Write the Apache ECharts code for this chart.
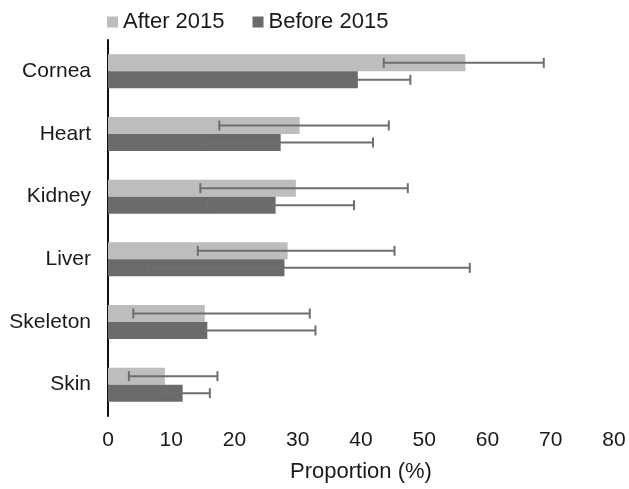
<!DOCTYPE html>
<html><head><meta charset="utf-8">
<script src="https://cdn.jsdelivr.net/npm/echarts@6/dist/echarts.min.js"></script>
<style>html,body{margin:0;padding:0;background:#fff}#c{width:629px;height:489px}</style>
</head><body><div id="c"></div>
<script>
var categories = ['Cornea', 'Heart', 'Kidney', 'Liver', 'Skeleton', 'Skin'];
var afterMean = [56.5, 30.3, 29.7, 28.4, 15.3, 9.0];
var afterLow  = [43.6, 17.6, 14.6, 14.2, 4.0, 3.3];
var afterHigh = [68.9, 44.4, 47.4, 45.3, 31.9, 17.3];
var beforeMean = [39.5, 27.3, 26.5, 27.9, 15.7, 11.8];
var beforeLow  = [31.2, 15.0, 15.7, 6.4, 3.9, 7.5];
var beforeHigh = [47.8, 41.9, 38.9, 57.2, 32.8, 16.1];
var xTicks = [0, 10, 20, 30, 40, 50, 60, 70, 80];

var FONT = 'Liberation Sans';
var BAR_W = 17;

function errData(lo, hi) {
  return categories.map(function (c, i) { return [lo[i], hi[i], i]; });
}
function errSeries(name, lo, hi, offset) {
  return {
    type: 'custom',
    name: name,
    data: errData(lo, hi),
    encode: { x: [0, 1], y: 2 },
    z: 10,
    silent: true,
    renderItem: function (params, api) {
      var cat = api.value(2);
      var p1 = api.coord([api.value(0), cat]);
      var p2 = api.coord([api.value(1), cat]);
      var y = p1[1] + offset;
      var h = 5;
      var st = { stroke: '#6e6e6e', lineWidth: 2 };
      return {
        type: 'group',
        children: [
          { type: 'line', shape: { x1: p1[0], y1: y, x2: p2[0], y2: y }, style: st },
          { type: 'line', shape: { x1: p1[0], y1: y - h, x2: p1[0], y2: y + h }, style: st },
          { type: 'line', shape: { x1: p2[0], y1: y - h, x2: p2[0], y2: y + h }, style: st }
        ]
      };
    }
  };
}

var chart = echarts.init(document.getElementById('c'));
chart.setOption({
  animation: false,
  textStyle: { fontFamily: FONT },
  legend: {
    data: ['After 2015', 'Before 2015'],
    left: 102, top: 6,
    itemWidth: 11, itemHeight: 11, itemGap: 28,
    icon: 'rect',
    textStyle: { fontSize: 22, color: '#1a1a1a', fontFamily: FONT }
  },
  grid: { left: 108, right: 15, top: 40, bottom: 73, containLabel: false },
  xAxis: {
    type: 'value', min: 0, max: 80, interval: 10,
    name: 'Proportion (%)', nameLocation: 'middle', nameGap: 45,
    nameTextStyle: { fontSize: 22, color: '#1a1a1a', fontFamily: FONT },
    axisLine: { show: false }, axisTick: { show: false },
    splitLine: { show: false },
    axisLabel: {
      fontSize: 21, color: '#1a1a1a', margin: 14, fontFamily: FONT,
      formatter: function (v) { return xTicks.indexOf(v) >= 0 ? String(v) : ''; }
    }
  },
  yAxis: {
    type: 'category', data: categories, inverse: true,
    axisLine: { show: true, lineStyle: { color: '#111', width: 2 } },
    axisTick: { show: false },
    axisLabel: { fontSize: 21, color: '#1a1a1a', margin: 17, fontFamily: FONT }
  },
  series: [
    { name: 'After 2015', type: 'bar', data: afterMean, barWidth: BAR_W, barGap: '0%',
      itemStyle: { color: '#bdbdbd' } },
    { name: 'Before 2015', type: 'bar', data: beforeMean, barWidth: BAR_W, barGap: '0%',
      itemStyle: { color: '#6b6b6b' } },
    errSeries('errA', afterLow, afterHigh, -BAR_W / 2),
    errSeries('errB', beforeLow, beforeHigh, BAR_W / 2)
  ]
});
</script></body></html>
